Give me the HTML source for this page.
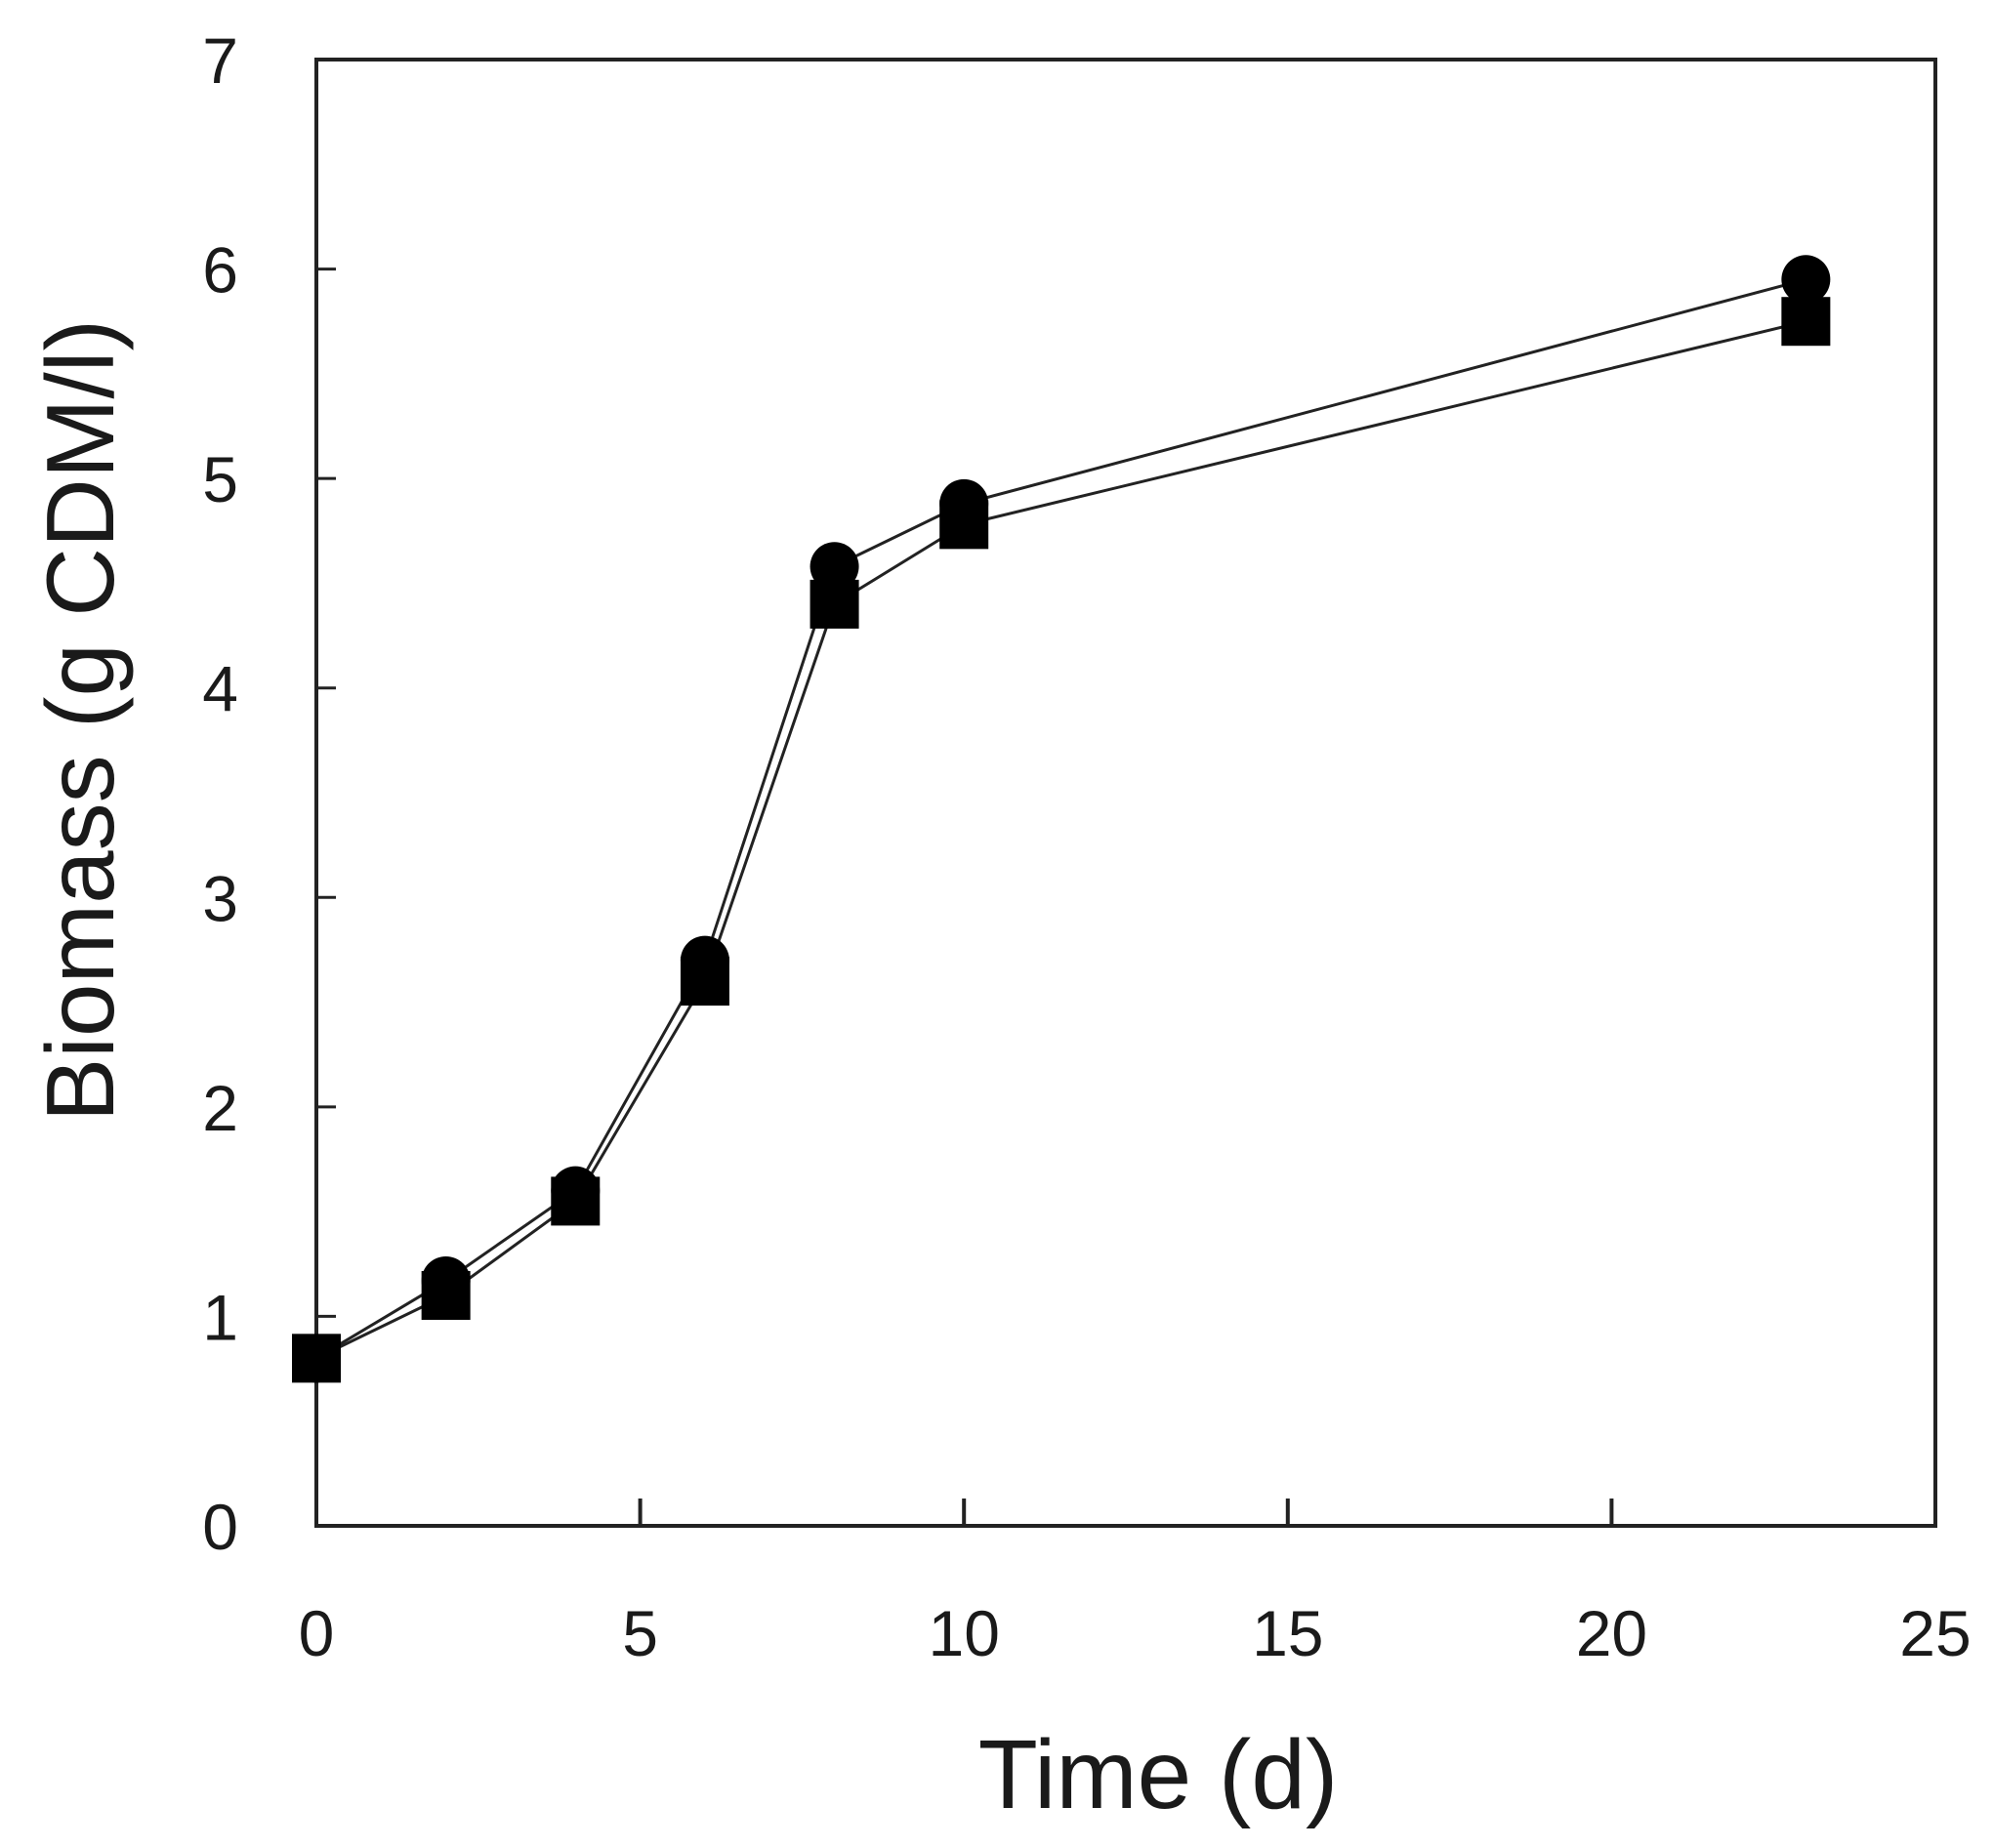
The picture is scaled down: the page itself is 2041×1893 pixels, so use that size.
<!DOCTYPE html>
<html><head><meta charset="utf-8"><style>
html,body{margin:0;padding:0;background:#fff;}
svg{display:block;}
text{font-family:"Liberation Sans",sans-serif;fill:#1a1a1a;}
</style></head><body>
<svg id="chart" width="2041" height="1893" viewBox="0 0 2041 1893" xmlns="http://www.w3.org/2000/svg">
<rect x="324" y="61" width="1658" height="1502" fill="none" stroke="#222" stroke-width="4"/>
<g id="ticks"></g>
<g id="series"></g>
<text x="1186" y="1852" font-size="100" text-anchor="middle">Time (d)</text>
<text transform="translate(116,738) rotate(-90)" font-size="98" text-anchor="middle">Biomass (g CDM/l)</text>
</svg>
<script>
const times = [0, 2, 4, 6, 8, 10, 23];
const circleSeries = [0.8, 1.17, 1.6, 2.7, 4.58, 4.88, 5.95];
const squareSeries = [0.8, 1.1, 1.55, 2.6, 4.4, 4.78, 5.75];
const xTicks = [0, 5, 10, 15, 20, 25];
const yTicks = [0, 1, 2, 3, 4, 5, 6, 7];

const NS = 'http://www.w3.org/2000/svg';
const L = 324, R = 1982, T = 61, B = 1563;
function xs(v){ return L + (v / 25) * (R - L); }
function ys(v){ return B - (v / 7) * (B - T); }
function mk(tag, attrs, parent){ const e = document.createElementNS(NS, tag); for (const k in attrs) e.setAttribute(k, attrs[k]); parent.appendChild(e); return e; }

const tg = document.getElementById('ticks');
xTicks.forEach(v => {
  const t = mk('line', {x1: xs(v), x2: xs(v), y1: B, y2: B - 28, stroke: '#222', 'stroke-width': 4}, tg);
  
  
  const l = mk('text', {x: xs(v), y: 1696, 'font-size': 66, 'text-anchor': 'middle'}, tg);
  l.textContent = v;
  
  
});
yTicks.forEach(v => {
  const t = mk('line', {x1: L, x2: L + 20, y1: ys(v), y2: ys(v), stroke: '#222', 'stroke-width': 3}, tg);
  
  
  const l = mk('text', {x: 244, y: ys(v) + 24, 'font-size': 66, 'text-anchor': 'end'}, tg);
  l.textContent = v;
  
  
});

const sg = document.getElementById('series');
function drawLine(vals, name){
  const p = mk('polyline', {points: vals.map((v,i) => xs(times[i]) + ',' + ys(v)).join(' '), fill: 'none', stroke: '#222', 'stroke-width': 3}, sg);
  
  
}
drawLine(circleSeries, 'circle-series-line');
drawLine(squareSeries, 'square-series-line');
circleSeries.forEach((v, i) => {
  const c = mk('circle', {cx: xs(times[i]), cy: ys(v), r: 25, fill: '#000'}, sg);
  
  
});
squareSeries.forEach((v, i) => {
  const s = mk('rect', {x: xs(times[i]) - 25, y: ys(v) - 25, width: 50, height: 50, fill: '#000'}, sg);
  
  
});
</script>
</body></html>
